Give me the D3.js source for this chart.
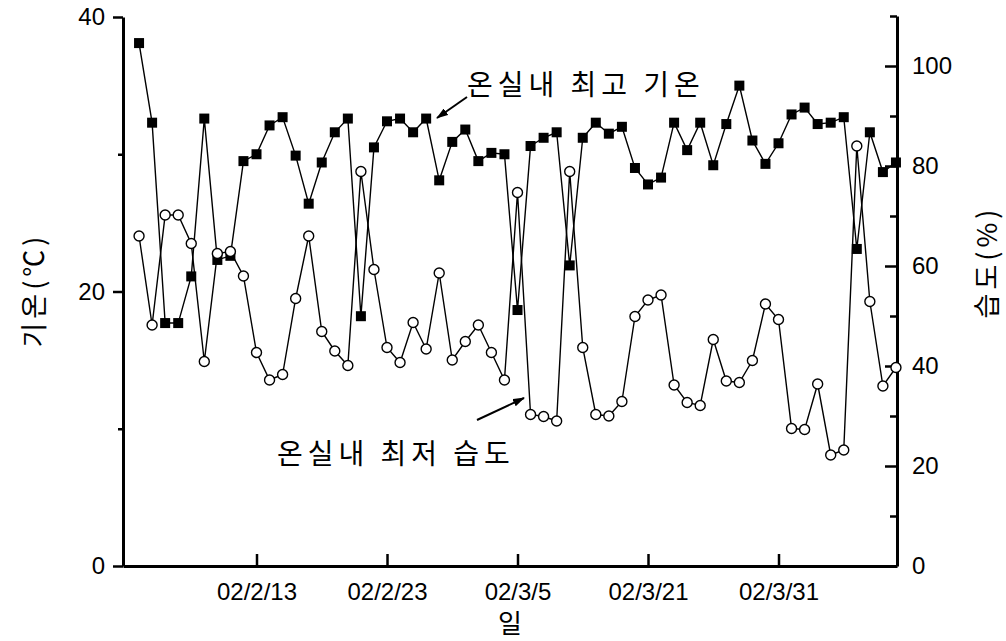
<!DOCTYPE html>
<html>
<head>
<meta charset="utf-8">
<script src="https://cdn.jsdelivr.net/npm/d3@7"></script>
<style>
  body { margin: 0; background: #fff; }
  .num { font-family: "Liberation Sans", Arial, sans-serif; font-size: 24px; fill: #000; }
  .kr { font-family: "Noto Sans CJK KR", sans-serif; fill: #000; }
</style>
</head>
<body>
<div id="chart"></div>
<script>
// 온실내 최고 기온 (℃) - left axis, filled squares
var maxTemp = [38.1, 32.3, 17.7, 17.7, 21.1, 32.6, 22.3, 22.6, 29.5, 30.0,
               32.1, 32.7, 29.9, 26.4, 29.4, 31.6, 32.6, 18.2, 30.5, 32.4,
               32.6, 31.6, 32.6, 28.1, 30.9, 31.8, 29.5, 30.1, 30.0, 18.65,
               30.6, 31.2, 31.6, 21.9, 31.2, 32.3, 31.5, 32.0, 29.0, 27.8,
               28.3, 32.3, 30.3, 32.3, 29.2, 32.2, 35.0, 31.0, 29.3, 30.8,
               32.9, 33.4, 32.2, 32.3, 32.7, 23.1, 31.6, 28.7, 29.4];

// 온실내 최저 습도 (%) - right axis, open circles
var minHum = [66.0, 48.2, 70.2, 70.2, 64.5, 40.9, 62.5, 62.9, 58.0, 42.7,
              37.2, 38.3, 53.5, 66.0, 46.9, 43.0, 40.1, 78.9, 59.3, 43.7,
              40.7, 48.7, 43.4, 58.6, 41.2, 44.9, 48.2, 42.7, 37.2, 74.7,
              30.3, 29.9, 29.0, 78.9, 43.7, 30.3, 30.0, 32.9, 49.9, 53.2,
              54.2, 36.2, 32.7, 32.1, 45.3, 37.0, 36.7, 41.1, 52.4, 49.3,
              27.5, 27.3, 36.4, 22.2, 23.2, 84.0, 52.9, 36.0, 39.7];

var dateTickIdx = [9, 19, 29, 39, 49];
var dateTickLabels = ["02/2/13", "02/2/23", "02/3/5", "02/3/21", "02/3/31"];
var tempTicks = [0, 10, 20, 30, 40];
var humTicks = [0, 10, 20, 30, 40, 50, 60, 70, 80, 90, 100, 110];

var W = 1006, H = 641;
var plotL = 123, plotR = 897, plotT = 17, plotB = 566;

var svg = d3.select("#chart").append("svg")
    .attr("width", W).attr("height", H);

var x = d3.scaleLinear().domain([-1.23, 58.08]).range([plotL, plotR]);
var yT = d3.scaleLinear().domain([0, 40]).range([plotB, plotT]);
var yH = d3.scaleLinear().domain([0, 110]).range([plotB, 16]);

// axes
var axL = svg.append("g").attr("class", "num")
    .attr("transform", "translate(" + plotL + ",0)")
    .call(d3.axisLeft(yT).tickValues(tempTicks).tickSize(10).tickSizeOuter(0).tickPadding(8)
          .tickFormat(function(d) { return d % 20 === 0 ? d : ""; }));
axL.selectAll(".tick line").attr("x2", function(d) { return d % 20 === 0 ? -10 : -5; });

var axR = svg.append("g").attr("class", "num")
    .attr("transform", "translate(" + plotR + ",0)")
    .call(d3.axisRight(yH).tickValues(humTicks).tickSizeInner(-12).tickSizeOuter(0).tickPadding(15)
          .tickFormat(function(d) { return d % 20 === 0 && d <= 100 ? d : ""; }));
axR.selectAll(".tick line").attr("x2", function(d) { return d % 20 === 0 ? -12 : -7; });

var axB = svg.append("g").attr("class", "num")
    .attr("transform", "translate(0," + plotB + ")")
    .call(d3.axisBottom(x).tickValues(dateTickIdx).tickSizeInner(-12).tickSizeOuter(0).tickPadding(17)
          .tickFormat(function(d, i) { return dateTickLabels[i]; }));

svg.selectAll(".domain").attr("stroke", "#000").attr("stroke-width", 3);
svg.selectAll(".tick line").attr("stroke", "#000").attr("stroke-width", 2.5);
svg.selectAll(".tick text").attr("font-size", 24).attr("font-family", "Liberation Sans, Arial, sans-serif");

// temperature series
var lineT = d3.line().x(function(d, i) { return x(i); }).y(function(d) { return yT(d); });
svg.append("path").datum(maxTemp)
    .attr("d", lineT).attr("fill", "none").attr("stroke", "#000").attr("stroke-width", 1.4);
svg.append("g").selectAll("rect").data(maxTemp).enter().append("rect")
    .attr("x", function(d, i) { return x(i) - 5; })
    .attr("y", function(d) { return yT(d) - 5; })
    .attr("width", 10).attr("height", 10).attr("fill", "#000");

// humidity series
var lineH = d3.line().x(function(d, i) { return x(i); }).y(function(d) { return yH(d); });
svg.append("path").datum(minHum)
    .attr("d", lineH).attr("fill", "none").attr("stroke", "#000").attr("stroke-width", 1.4);
svg.append("g").selectAll("circle").data(minHum).enter().append("circle")
    .attr("cx", function(d, i) { return x(i); })
    .attr("cy", function(d) { return yH(d); })
    .attr("r", 5).attr("fill", "#fff").attr("stroke", "#000").attr("stroke-width", 1.4);

// axis titles
svg.append("text").attr("class", "kr")
    .attr("transform", "translate(32,290) rotate(-90)")
    .attr("text-anchor", "middle").attr("dominant-baseline", "central")
    .attr("font-size", 27).attr("letter-spacing", 4)
    .text("기온(℃)");
svg.append("text").attr("class", "kr")
    .attr("transform", "translate(985,262) rotate(-90)")
    .attr("text-anchor", "middle").attr("dominant-baseline", "central")
    .attr("font-size", 27).attr("letter-spacing", 4)
    .text("습도(%)");
svg.append("text").attr("class", "kr")
    .attr("x", 510).attr("y", 621)
    .attr("text-anchor", "middle").attr("dominant-baseline", "central")
    .attr("font-size", 26)
    .text("일");

// annotations
var defs = svg.append("defs");
defs.append("marker").attr("id", "arr")
    .attr("viewBox", "0 0 12 8").attr("refX", 11).attr("refY", 4)
    .attr("markerWidth", 12).attr("markerHeight", 8).attr("markerUnits", "userSpaceOnUse")
    .attr("orient", "auto")
  .append("path").attr("d", "M0,0 L12,4 L0,8 Z").attr("fill", "#000");

svg.append("text").attr("class", "kr")
    .attr("x", 467).attr("y", 83).attr("dominant-baseline", "central")
    .attr("font-size", 28).attr("letter-spacing", 5)
    .text("온실내 최고 기온");
svg.append("line").attr("x1", 467).attr("y1", 97).attr("x2", 437).attr("y2", 118)
    .attr("stroke", "#000").attr("stroke-width", 2).attr("marker-end", "url(#arr)");

svg.append("text").attr("class", "kr")
    .attr("x", 277).attr("y", 452).attr("dominant-baseline", "central")
    .attr("font-size", 28).attr("letter-spacing", 5)
    .text("온실내 최저 습도");
svg.append("line").attr("x1", 477).attr("y1", 420).attr("x2", 524).attr("y2", 398)
    .attr("stroke", "#000").attr("stroke-width", 2).attr("marker-end", "url(#arr)");
</script>
</body>
</html>
